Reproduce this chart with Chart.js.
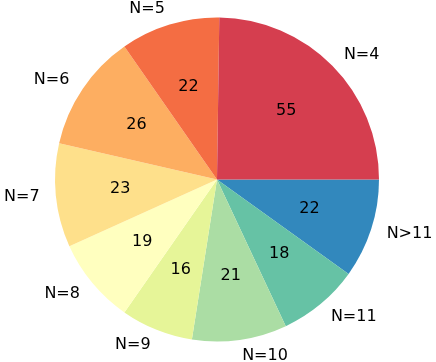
<!DOCTYPE html>
<html>
<head>
<meta charset="utf-8">
<script src="https://cdn.jsdelivr.net/npm/chart.js@4/dist/chart.umd.min.js"></script>
<style>
  html, body { margin: 0; padding: 0; background: #ffffff; }
  #wrap { width: 436px; height: 362px; }
</style>
</head>
<body>
<div id="wrap"><canvas id="chart"></canvas></div>
<script>
const categories = ["N=4", "N=5", "N=6", "N=7", "N=8", "N=9", "N=10", "N=11", "N>11"];
const counts = [55, 22, 26, 23, 19, 16, 21, 18, 22];
const colors = ["#d53e4f", "#f46d43", "#fdae61", "#fee08b", "#ffffbf", "#e6f598", "#abdda4", "#66c2a5", "#3288bd"];

// matplotlib drew these counter-clockwise from 3 o'clock, Chart.js goes clockwise
const labels = categories.slice().reverse();
const values = counts.slice().reverse();
const bg = colors.slice().reverse();

const FONT = "16px 'DejaVu Sans', sans-serif";

const pieLabels = {
  id: "pieLabels",
  afterDatasetsDraw(chart) {
    const ctx = chart.ctx;
    const meta = chart.getDatasetMeta(0);
    ctx.save();
    ctx.font = FONT;
    ctx.fillStyle = "#000000";
    ctx.textBaseline = "middle";
    meta.data.forEach((arc, i) => {
      const mid = (arc.startAngle + arc.endAngle) / 2;
      const r = arc.outerRadius;
      const cos = Math.cos(mid), sin = Math.sin(mid);

      ctx.textAlign = "center";
      ctx.fillText(String(values[i]), arc.x + 0.6 * r * cos, arc.y + 0.6 * r * sin);

      ctx.textAlign = cos > 0 ? "left" : "right";
      ctx.fillText(labels[i], arc.x + 1.1 * r * cos, arc.y + 1.1 * r * sin);
    });
    ctx.restore();
  }
};

new Chart(document.getElementById("chart"), {
  type: "pie",
  data: {
    labels,
    datasets: [{
      data: values,
      backgroundColor: bg,
      borderWidth: 0
    }]
  },
  options: {
    responsive: true,
    maintainAspectRatio: false,
    animation: false,
    rotation: 90,
    layout: {
      padding: { top: 17.5, bottom: 20.5, left: 55, right: 57 }
    },
    plugins: {
      legend: { display: false },
      tooltip: { enabled: false }
    }
  },
  plugins: [pieLabels]
});
</script>
</body>
</html>
